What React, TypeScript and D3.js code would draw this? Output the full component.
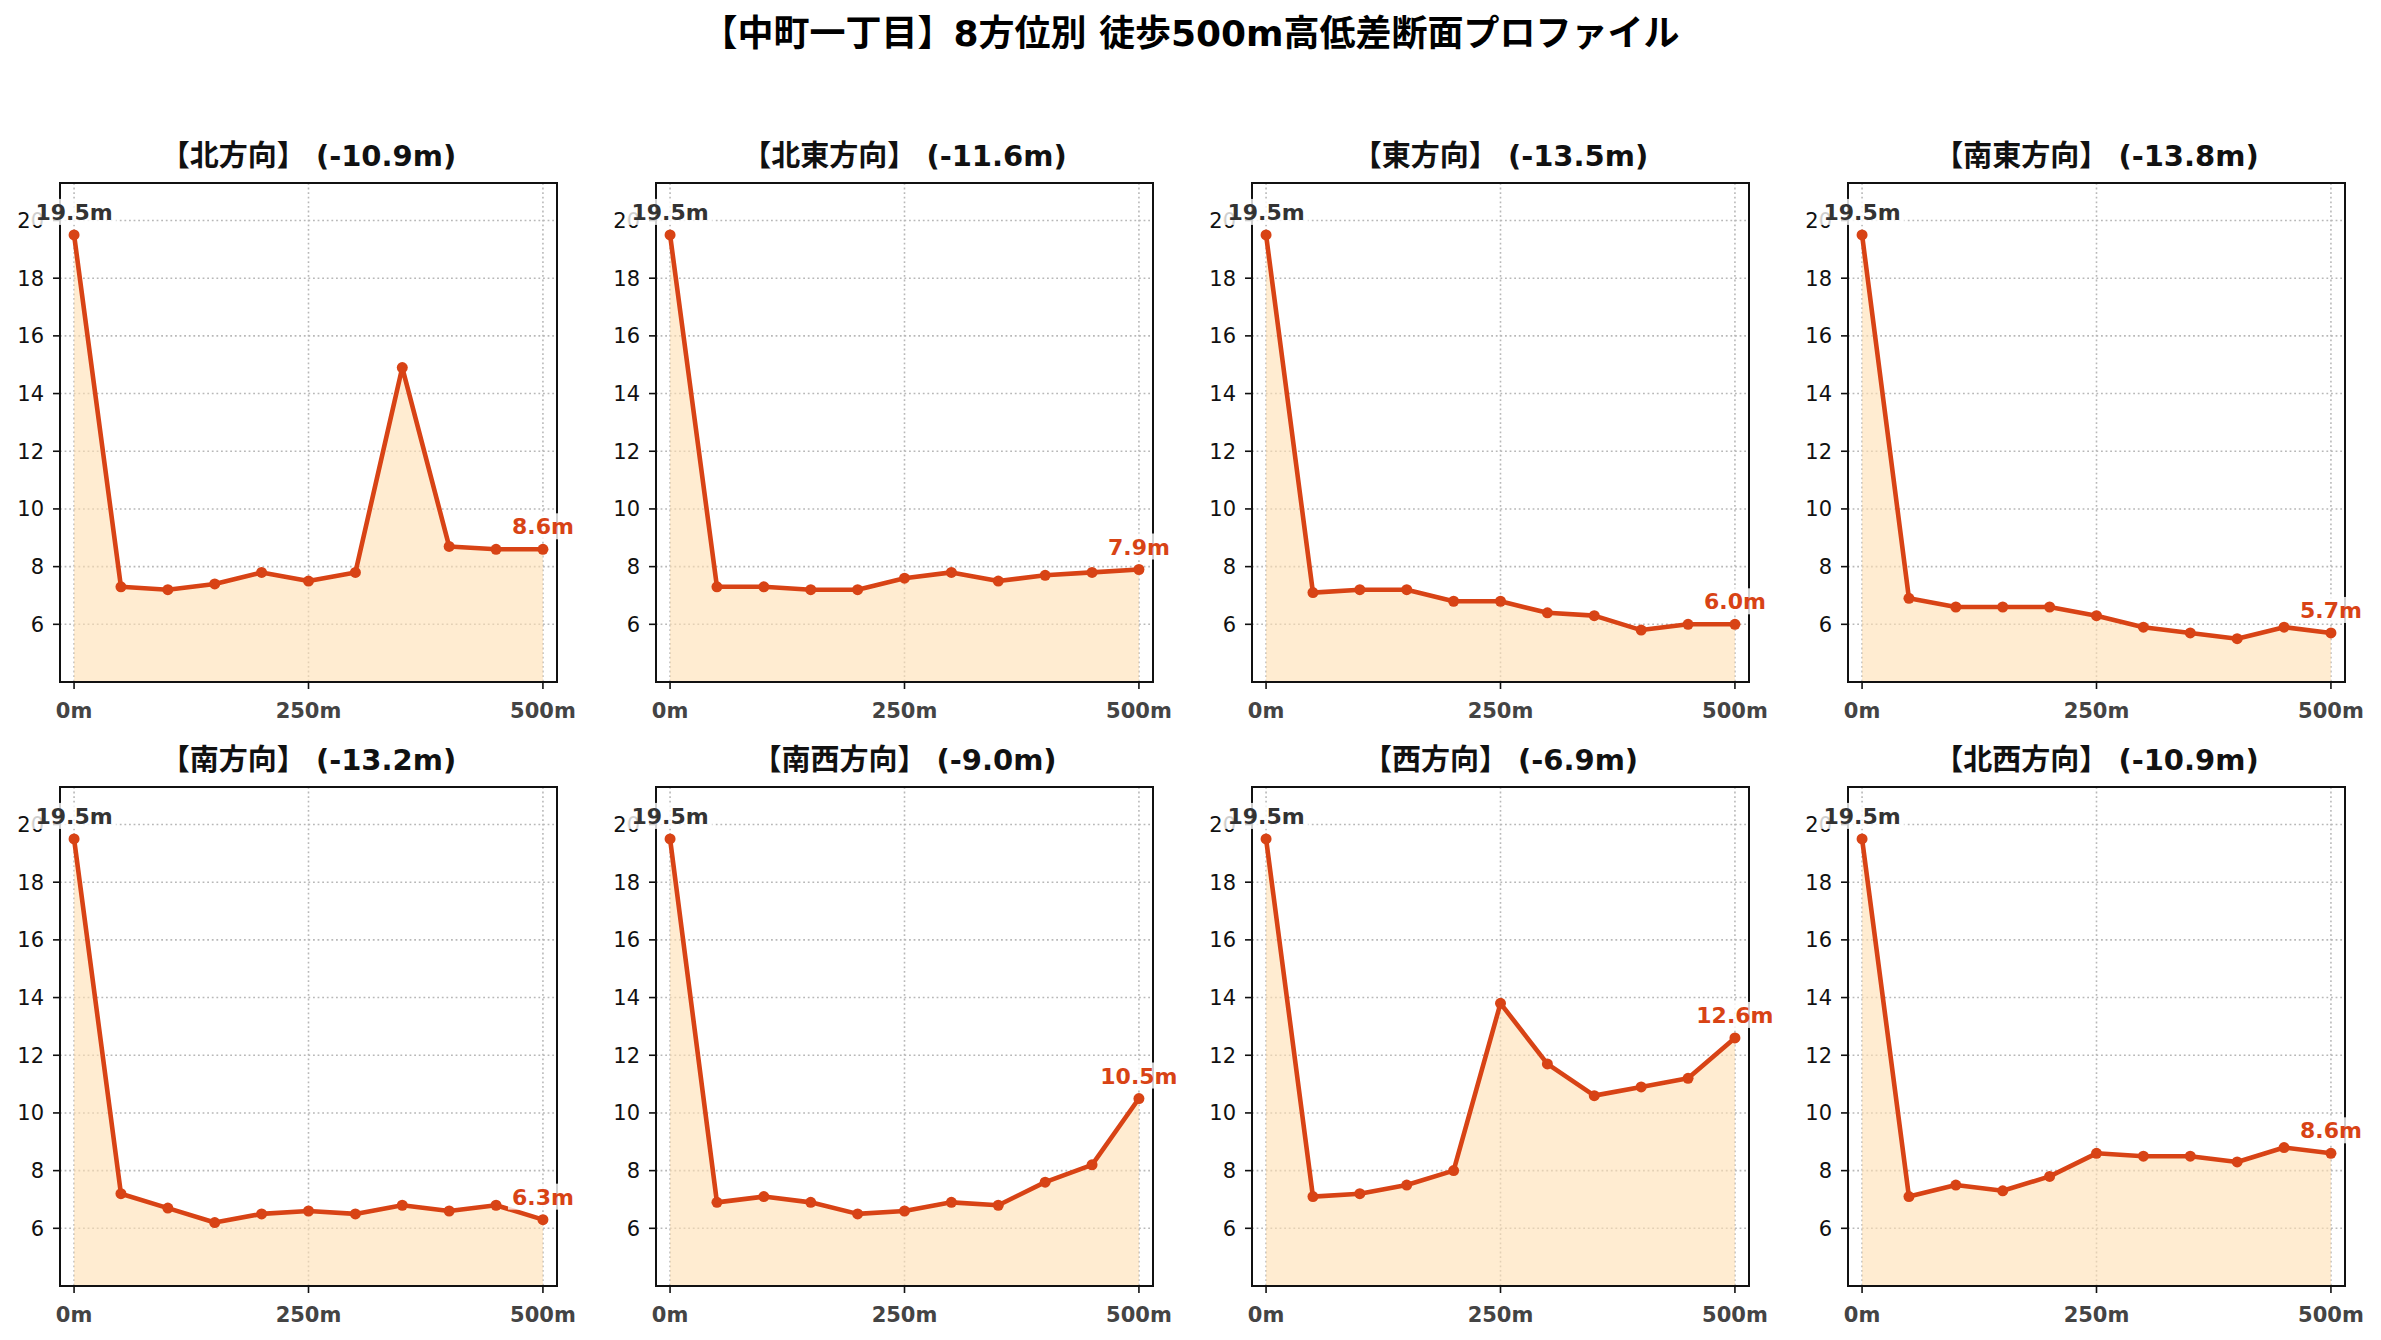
import React, { useEffect, useRef } from 'react';
import * as d3 from 'd3';

// --- data ---
const distances = [0, 50, 100, 150, 200, 250, 300, 350, 400, 450, 500];
const directionNames = ['北', '北東', '東', '南東', '南', '南西', '西', '北西'];
const northElev = [19.5, 7.3, 7.2, 7.4, 7.8, 7.5, 7.8, 14.9, 8.7, 8.6, 8.6];
const northEastElev = [19.5, 7.3, 7.3, 7.2, 7.2, 7.6, 7.8, 7.5, 7.7, 7.8, 7.9];
const eastElev = [19.5, 7.1, 7.2, 7.2, 6.8, 6.8, 6.4, 6.3, 5.8, 6.0, 6.0];
const southEastElev = [19.5, 6.9, 6.6, 6.6, 6.6, 6.3, 5.9, 5.7, 5.5, 5.9, 5.7];
const southElev = [19.5, 7.2, 6.7, 6.2, 6.5, 6.6, 6.5, 6.8, 6.6, 6.8, 6.3];
const southWestElev = [19.5, 6.9, 7.1, 6.9, 6.5, 6.6, 6.9, 6.8, 7.6, 8.2, 10.5];
const westElev = [19.5, 7.1, 7.2, 7.5, 8.0, 13.8, 11.7, 10.6, 10.9, 11.2, 12.6];
const northWestElev = [19.5, 7.1, 7.5, 7.3, 7.8, 8.6, 8.5, 8.5, 8.3, 8.8, 8.6];
const yTicks = [6, 8, 10, 12, 14, 16, 18, 20];
const xTicks = [0, 250, 500];

const series = [
	northElev,
	northEastElev,
	eastElev,
	southEastElev,
	southElev,
	southWestElev,
	westElev,
	northWestElev,
];

const W = 2381;
const H = 1340;
const FONT = '"DejaVu Sans", "Noto Sans CJK JP", sans-serif';
const LINE = '#D84315';
const FILL = '#FFE0B2';

const App: React.FC = () => {
	const ref = useRef<SVGSVGElement>(null);

	useEffect(() => {
		if (!ref.current) return;
		const svg = d3.select(ref.current);
		svg.selectAll('*').remove();
		svg.style('font-family', FONT);

		svg
			.append('rect')
			.attr('width', W)
			.attr('height', H)
			.attr('fill', '#fff');

		svg
			.append('text')
			.attr('x', W / 2)
			.attr('y', 46)
			.attr('text-anchor', 'middle')
			.style('font-size', '36px')
			.style('font-weight', 'bold')
			.text('【中町一丁目】8方位別 徒歩500m高低差断面プロファイル');

		const colLeft = [60, 656, 1252, 1848];
		const rowTop = [183, 787];
		const pw = 497;
		const ph = 499;

		series.forEach((elev, i) => {
			const left = colLeft[i % 4];
			const top = rowTop[Math.floor(i / 4)];
			const g = svg.append('g').attr('transform', `translate(${left},${top})`);

			const x = d3.scaleLinear().domain([-15, 515]).range([0, pw]);
			const y = d3.scaleLinear().domain([4.0, 21.3]).range([ph, 0]);

			// grid
			g.selectAll('.gy')
				.data(yTicks)
				.enter()
				.append('line')
				.attr('x1', 0)
				.attr('x2', pw)
				.attr('y1', (d) => y(d))
				.attr('y2', (d) => y(d))
				.attr('stroke', '#b8b8b8')
				.attr('stroke-width', 1.6)
				.attr('stroke-dasharray', '1.8,2.8');
			g.selectAll('.gx')
				.data(xTicks)
				.enter()
				.append('line')
				.attr('y1', 0)
				.attr('y2', ph)
				.attr('x1', (d) => x(d))
				.attr('x2', (d) => x(d))
				.attr('stroke', '#b8b8b8')
				.attr('stroke-width', 1.6)
				.attr('stroke-dasharray', '1.8,2.8');

			const pts = distances.map((d, k) => ({ d, v: elev[k] }));

			// fill
			const area = d3
				.area<{ d: number; v: number }>()
				.x((p) => x(p.d))
				.y0(y(4.0))
				.y1((p) => y(p.v));
			g.append('path')
				.attr('d', area(pts) ?? '')
				.attr('fill', FILL)
				.attr('fill-opacity', 0.6);

			// line
			const line = d3
				.line<{ d: number; v: number }>()
				.x((p) => x(p.d))
				.y((p) => y(p.v));
			g.append('path')
				.attr('d', line(pts) ?? '')
				.attr('fill', 'none')
				.attr('stroke', LINE)
				.attr('stroke-width', 4.6)
				.attr('stroke-linejoin', 'round');
			g.selectAll('.pt')
				.data(pts)
				.enter()
				.append('circle')
				.attr('cx', (p) => x(p.d))
				.attr('cy', (p) => y(p.v))
				.attr('r', 5.5)
				.attr('fill', LINE);

			// spines
			g.append('rect')
				.attr('width', pw)
				.attr('height', ph)
				.attr('fill', 'none')
				.attr('stroke', '#111')
				.attr('stroke-width', 2);

			// y axis ticks
			const yt = g.selectAll('.yt').data(yTicks).enter().append('g');
			yt.append('line')
				.attr('x1', -7)
				.attr('x2', 0)
				.attr('y1', (d) => y(d))
				.attr('y2', (d) => y(d))
				.attr('stroke', '#111')
				.attr('stroke-width', 1.6);
			yt.append('text')
				.attr('x', -16)
				.attr('y', (d) => y(d))
				.attr('dy', '0.36em')
				.attr('text-anchor', 'end')
				.style('font-size', '21px')
				.attr('fill', '#111')
				.text((d) => d);

			// x axis ticks
			const xt = g.selectAll('.xt').data(xTicks).enter().append('g');
			xt.append('line')
				.attr('x1', (d) => x(d))
				.attr('x2', (d) => x(d))
				.attr('y1', ph)
				.attr('y2', ph + 7)
				.attr('stroke', '#111')
				.attr('stroke-width', 1.6);
			xt.append('text')
				.attr('x', (d) => x(d))
				.attr('y', ph + 36)
				.attr('text-anchor', 'middle')
				.style('font-size', '21px')
				.style('font-weight', 'bold')
				.attr('fill', '#444')
				.text((d) => `${d}m`);

			// subplot title
			const diff = elev[elev.length - 1] - elev[0];
			g.append('text')
				.attr('x', pw / 2)
				.attr('y', -17)
				.attr('text-anchor', 'middle')
				.style('font-size', '29px')
				.style('font-weight', 'bold')
				.attr('fill', '#111')
				.text(`【${directionNames[i]}方向】 (${diff.toFixed(1)}m)`);

			// annotations: start and end
			const labels = [
				{ d: distances[0], v: elev[0], color: '#333' },
				{ d: distances[distances.length - 1], v: elev[elev.length - 1], color: LINE },
			];
			labels.forEach((lb) => {
				const lg = g.append('g');
				const bg = lg.append('rect').attr('fill', '#fff').attr('fill-opacity', 0.8);
				const t = lg
					.append('text')
					.attr('x', x(lb.d))
					.attr('y', y(lb.v) - 15)
					.attr('text-anchor', 'middle')
					.style('font-size', '22px')
					.style('font-weight', 'bold')
					.attr('fill', lb.color)
					.text(`${lb.v.toFixed(1)}m`);
				const bb = (t.node() as SVGTextElement).getBBox();
				bg.attr('x', bb.x - 4)
					.attr('y', bb.y - 1)
					.attr('width', bb.width + 8)
					.attr('height', bb.height + 1);
			});
		});
	}, []);

	return (
		<div style={{ position: 'absolute', left: 0, top: 0 }}>
			<svg ref={ref} width={W} height={H} style={{ display: 'block' }} />
		</div>
	);
};

export default App;
